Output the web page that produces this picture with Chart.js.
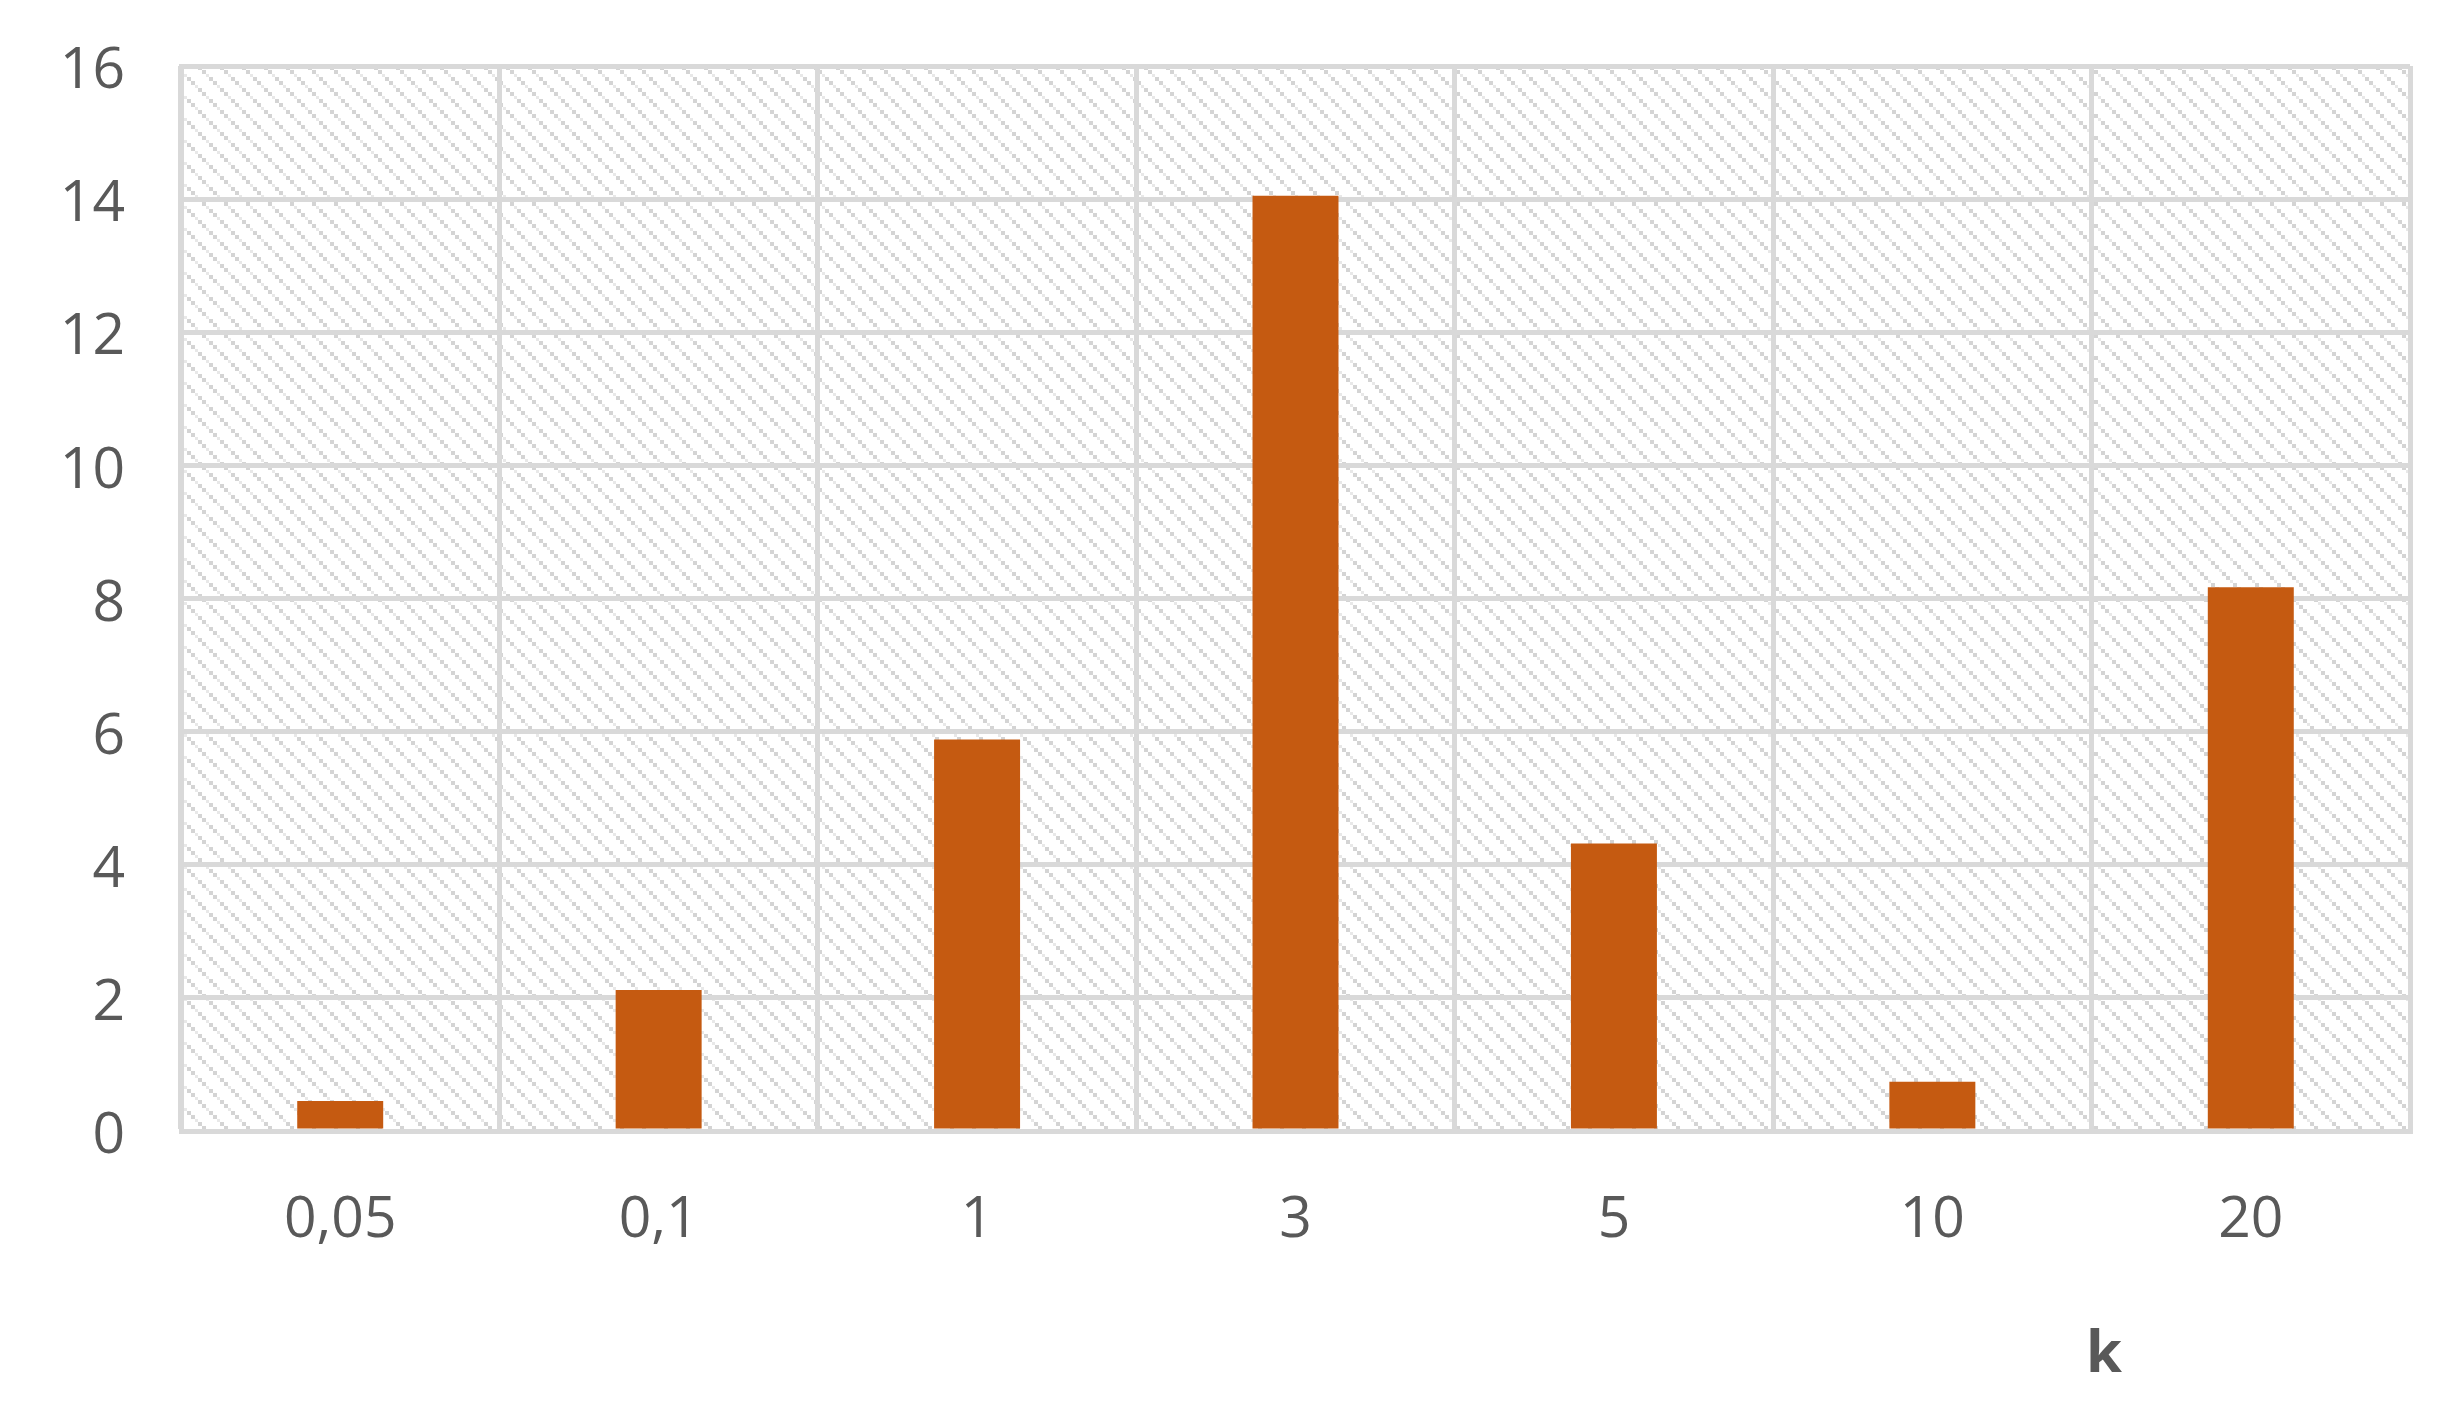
<!DOCTYPE html>
<html>
<head>
<meta charset="utf-8">
<script src="https://cdn.jsdelivr.net/npm/chart.js@4"></script>
<style>
    html, body { margin: 0; padding: 0; background: #fff; }
    #wrap { width: 2462px; height: 1419px; }
</style>
</head>
<body>
<div id="wrap"><canvas id="kChart"></canvas></div>
<script>
// values
const categories = ['0,05', '0,1', '1', '3', '5', '10', '20'];
const values = [0.45, 2.12, 5.88, 14.05, 4.32, 0.74, 8.17];
const yTicks = [0, 2, 4, 6, 8, 10, 12, 14, 16];
const axisTitle = 'k';

const gridGray = '#d9d9d9';
const textGray = '#595959';
const barColor = '#c55a11';

// diagonal hatch like the excel plot area fill (dotted stripes)
function makeHatch() {
    const c = document.createElement('canvas');
    c.width = 22;
    c.height = 22;
    const g = c.getContext('2d');
    g.fillStyle = '#fff';
    g.fillRect(0, 0, 22, 22);
    g.fillStyle = '#d4d4d4';
    [0, 4, 11, 15].forEach(p => g.fillRect(p, p, 4, 4));
    g.fillStyle = '#e8e8e8';
    [8, 19].forEach(p => g.fillRect(p, p, 3, 3));
    return g.createPattern(c, 'repeat');
}

const plotBg = {
    id: 'plotBg',
    beforeDraw(chart) {
        const a = chart.chartArea;
        const ctx = chart.ctx;
        ctx.save();
        ctx.fillStyle = makeHatch();
        ctx.fillRect(a.left, a.top, a.right - a.left, a.bottom - a.top);
        ctx.restore();
    },
    afterDraw(chart) {
        // axis title sits right of centre, under the "20" column
        const a = chart.chartArea;
        const ctx = chart.ctx;
        ctx.save();
        ctx.font = 'bold 58px "Open Sans"';
        ctx.fillStyle = textGray;
        ctx.textAlign = 'center';
        ctx.textBaseline = 'middle';
        ctx.fillText(axisTitle, a.left + (a.right - a.left) * 0.8627, a.bottom + 224);
        ctx.restore();
    }
};

const ctx = document.getElementById('kChart').getContext('2d');
new Chart(ctx, {
    type: 'bar',
    data: {
        labels: categories,
        datasets: [{
            data: values,
            backgroundColor: barColor,
            borderWidth: 0,
            barPercentage: 0.27,
            categoryPercentage: 1.0
        }]
    },
    options: {
        responsive: true,
        maintainAspectRatio: false,
        animation: false,
        devicePixelRatio: 1,
        layout: { padding: { top: 66, right: 52, bottom: 0, left: 0 } },
        plugins: {
            legend: { display: false },
            tooltip: { enabled: false }
        },
        scales: {
            x: {
                grid: { color: gridGray, lineWidth: 5, drawTicks: false, offset: true },
                border: { color: gridGray, width: 5 },
                ticks: {
                    color: textGray,
                    font: { family: 'Open Sans', size: 57 },
                    padding: 56
                },
                afterFit: s => { s.height = 288; s.paddingLeft = 0; s.paddingRight = 0; }
            },
            y: {
                min: 0,
                max: 16,
                afterBuildTicks: s => { s.ticks = yTicks.map(v => ({ value: v })); },
                grid: { color: gridGray, lineWidth: 5, drawTicks: false },
                border: { color: gridGray, width: 5 },
                ticks: {
                    color: textGray,
                    font: { family: 'Open Sans', size: 57 },
                    padding: 56,
                    labelOffset: 6
                },
                afterFit: s => { s.width = 181; s.paddingTop = 0; s.paddingBottom = 0; }
            }
        }
    },
    plugins: [plotBg]
});
</script>
</body>
</html>
